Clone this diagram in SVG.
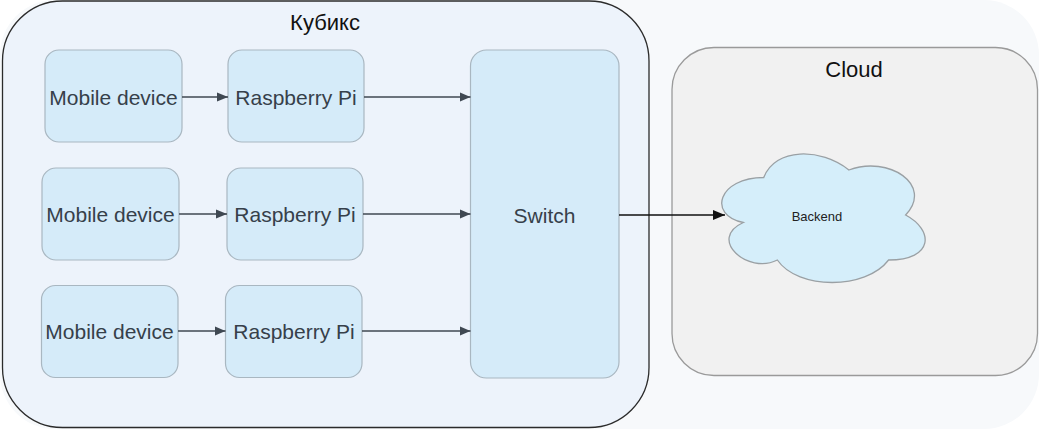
<svg xmlns="http://www.w3.org/2000/svg" width="1040" height="429" viewBox="0 0 1040 429">
  <defs>
    <style>
      .node { fill: #d5ebf9; stroke: #a9b7c1; stroke-width: 1.2; }
      .lbl { font-family: "Liberation Sans", Arial, sans-serif; font-size: 21px; fill: #36404a; text-anchor: middle; dominant-baseline: central; }
      .title { font-family: "Liberation Sans", Arial, sans-serif; font-size: 22px; fill: #111111; text-anchor: middle; }
      .conn { stroke: #3f4852; stroke-width: 1.3; fill: none; }
      .connb { stroke: #111111; stroke-width: 1.3; fill: none; }
    </style>
    <marker id="arr" viewBox="0 0 10 10" refX="10" refY="5" markerWidth="11" markerHeight="11" markerUnits="userSpaceOnUse" orient="auto">
      <path d="M0,0.8 L10,5 L0,9.2 Z" fill="#3f4852"/>
    </marker>
    <marker id="arrb" viewBox="0 0 10 10" refX="10" refY="5" markerWidth="12" markerHeight="12" markerUnits="userSpaceOnUse" orient="auto">
      <path d="M0,0.8 L10,5 L0,9.2 Z" fill="#111111"/>
    </marker>
  </defs>

  <rect x="0" y="0" width="1040" height="429" fill="#ffffff"/>
  <rect id="panel" x="0" y="0" width="1039" height="429" rx="55" ry="55" fill="#f7f9fb"/>

  <g id="kubiks">
    <rect x="2.5" y="1" width="646.5" height="426.5" rx="60" ry="60" fill="#edf3fb" stroke="#2b2b2b" stroke-width="1.3"/>
    <text class="title" x="325" y="30">Кубикс</text>
  </g>

  <g id="cloud-zone">
    <rect x="672" y="47.5" width="365.5" height="328" rx="42" ry="42" fill="#f1f1f1" stroke="#9a9a9a" stroke-width="1.3"/>
    <text class="title" x="854" y="77">Cloud</text>
  </g>

  <g id="mobile1">
    <rect class="node" x="45" y="50" width="137" height="92" rx="14"/>
    <text class="lbl" x="113.5" y="97">Mobile device</text>
  </g>
  <g id="rpi1">
    <rect class="node" x="228" y="50" width="136" height="92" rx="14"/>
    <text class="lbl" x="296" y="97">Raspberry Pi</text>
  </g>
  <g id="mobile2">
    <rect class="node" x="42" y="168" width="137" height="92" rx="14"/>
    <text class="lbl" x="110.5" y="214">Mobile device</text>
  </g>
  <g id="rpi2">
    <rect class="node" x="227" y="168" width="136" height="92" rx="14"/>
    <text class="lbl" x="295" y="214">Raspberry Pi</text>
  </g>
  <g id="mobile3">
    <rect class="node" x="41.5" y="285.5" width="136.5" height="92" rx="14"/>
    <text class="lbl" x="109.5" y="331">Mobile device</text>
  </g>
  <g id="rpi3">
    <rect class="node" x="225.5" y="285.5" width="136.5" height="92" rx="14"/>
    <text class="lbl" x="294" y="331">Raspberry Pi</text>
  </g>
  <g id="switch">
    <rect class="node" x="470.5" y="50" width="148.5" height="328" rx="16"/>
    <text class="lbl" x="544.5" y="215">Switch</text>
  </g>

  <g id="backend">
    <path d="M763.75,177.5 C718.35,177.5 707,215 743.32,222.5 C707,239 747.86,275 777.37,260 C797.8,290 865.9,290 888.6,260 C934,260 934,230 905.6,215 C934,185 888.6,155 848.9,170 C820.5,147.5 775.1,147.5 763.75,177.5 Z" fill="#d5eefa" stroke="#9aa0a4" stroke-width="1.3"/>
    <text x="817" y="216" font-family="'Liberation Sans', Arial, sans-serif" font-size="13" fill="#222222" text-anchor="middle" dominant-baseline="central">Backend</text>
  </g>

  <g id="connectors">
    <line class="conn" x1="182" y1="97" x2="228" y2="97" marker-end="url(#arr)"/>
    <line class="conn" x1="364" y1="97" x2="470.5" y2="97" marker-end="url(#arr)"/>
    <line class="conn" x1="179" y1="214" x2="227" y2="214" marker-end="url(#arr)"/>
    <line class="conn" x1="363" y1="214" x2="470.5" y2="214" marker-end="url(#arr)"/>
    <line class="conn" x1="178" y1="331" x2="225.5" y2="331" marker-end="url(#arr)"/>
    <line class="conn" x1="362" y1="331" x2="470.5" y2="331" marker-end="url(#arr)"/>
    <line class="connb" x1="619" y1="215" x2="725" y2="215" marker-end="url(#arrb)"/>
  </g>
</svg>
